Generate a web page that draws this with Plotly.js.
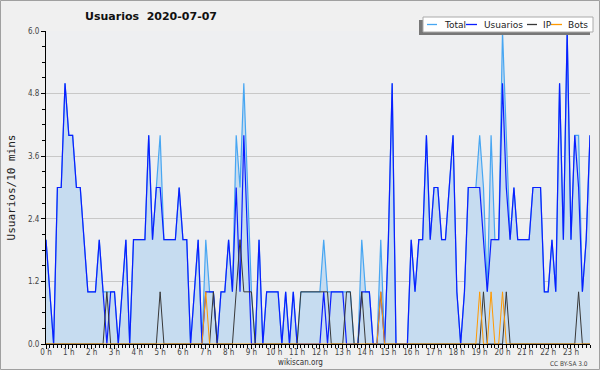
<!DOCTYPE html>
<html>
<head>
<meta charset="utf-8">
<script src="https://cdn.plot.ly/plotly-3.0.1.min.js"></script>
<style>
html,body{margin:0;padding:0;background:#f0f0f0;}
#chart{width:600px;height:370px;}
</style>
</head>
<body>
<div id="chart"></div>
<script>
// Users per 10-minute slot, 2020-07-07 (144 slots: 0h00 .. 23h50)
const usuarios = [
  2,1,0,3,3,5,4,4,3,3,
  2,1,1,1,2,1,0,1,1,0,
  1,2,0,2,2,2,2,4,2,3,
  3,2,2,2,2,3,2,2,0,1,
  2,0,1,1,1,0,1,1,2,1,
  3,1,4,2,0,0,2,0,1,1,
  1,1,0,1,0,1,0,0,0,0,
  0,0,0,1,0,1,1,1,1,0,
  0,0,0,1,1,1,0,0,1,0,
  2,5,0,0,0,0,2,1,2,2,
  4,2,3,3,2,2,3,4,1,0,
  1,3,3,3,3,2,1,2,2,2,
  5,3,2,3,2,2,2,2,3,3,
  3,1,1,2,1,5,2,6,2,4,
  3,1,2,4
];
const total = [
  2,1,0,3,3,5,4,4,3,3,
  2,1,1,1,2,1,1,1,1,0,
  1,2,0,2,2,2,2,4,2,3,
  4,2,2,2,2,3,2,2,0,1,
  2,0,2,1,1,0,1,1,2,1,
  4,3,5,3,1,0,2,0,1,1,
  1,1,0,1,0,1,0,1,1,1,
  1,1,1,2,1,1,1,1,1,1,
  1,0,0,2,1,1,0,0,2,0,
  2,5,0,0,0,0,2,1,2,2,
  4,2,3,3,2,2,3,4,1,0,
  1,3,3,3,4,3,1,4,2,2,
  6,4,2,3,2,2,2,2,3,3,
  3,1,1,2,1,5,2,6,2,4,
  4,1,2,4
];
const ip = [
  0,0,0,0,0,0,0,0,0,0,
  0,0,0,0,0,0,1,0,0,0,
  0,0,0,0,0,0,0,0,0,0,
  1,0,0,0,0,0,0,0,0,0,
  0,0,0,0,1,0,0,0,0,0,
  1,2,1,1,1,0,0,0,0,0,
  0,0,0,0,0,0,0,1,1,1,
  1,1,1,1,1,0,0,0,0,1,
  1,0,0,1,0,0,0,0,0,0,
  0,0,0,0,0,0,0,0,0,0,
  0,0,0,0,0,0,0,0,0,0,
  0,0,0,0,0,1,0,0,0,0,
  0,1,0,0,0,0,0,0,0,0,
  0,0,0,0,0,0,0,0,0,0,
  1,0,0,0
];
const bots = [
  0,0,0,0,0,0,0,0,0,0,
  0,0,0,0,0,0,0,0,0,0,
  0,0,0,0,0,0,0,0,0,0,
  0,0,0,0,0,0,0,0,0,0,
  0,0,1,0,0,0,0,0,0,0,
  0,0,0,0,0,0,0,0,0,0,
  0,0,0,0,0,0,0,0,0,0,
  0,0,0,0,0,0,0,0,0,0,
  0,0,0,0,0,0,0,0,1,0,
  0,0,0,0,0,0,0,0,0,0,
  0,0,0,0,0,0,0,0,0,0,
  0,0,0,0,1,0,0,1,0,0,
  1,0,0,0,0,0,0,0,0,0,
  0,0,0,0,0,0,0,0,0,0,
  0,0,0,0
];
const hourTicks = [0,1,2,3,4,5,6,7,8,9,10,11,12,13,14,15,16,17,18,19,20,21,22,23];
const hourLabels = ['0 h','1 h','2 h','3 h','4 h','5 h','6 h','7 h','8 h','9 h','10 h','11 h',
                    '12 h','13 h','14 h','15 h','16 h','17 h','18 h','19 h','20 h','21 h','22 h','23 h'];
const chartTitle = 'Usuarios\u00a0\u00a02020-07-07';
const yTitle = 'Usuarios/10 mins';

const slotsPerHour = 6;
const slotHours = usuarios.map((_, i) => i / slotsPerHour);

const colors = {Total:'#47a6f2', Usuarios:'#0a1eff', IP:'#383838', Bots:'#ff9900'};

const traces = [
  {x: slotHours, y: total, name: 'Total', type: 'scatter', mode: 'lines',
   line: {color: colors.Total, width: 1.2}, fill: 'tozeroy', fillcolor: '#c6dcf0'},
  {x: slotHours, y: usuarios, name: 'Usuarios', type: 'scatter', mode: 'lines',
   line: {color: colors.Usuarios, width: 1.2}},
  {x: slotHours, y: ip, name: 'IP', type: 'scatter', mode: 'lines',
   line: {color: colors.IP, width: 1}},
  {x: slotHours, y: bots, name: 'Bots', type: 'scatter', mode: 'lines',
   line: {color: colors.Bots, width: 1}}
];

// pixel -> paper helpers (plot area 46..590 x 31..344)
const PL = 46, PR = 590, PT = 31, PB = 344;
const px = v => (v - PL) / (PR - PL);
const py = v => (PB - v) / (PB - PT);

// custom compact legend
const legendRow = 24.5;
const legendItems = [
  {name: 'Total',    s0: 427, s1: 437, t: 442},
  {name: 'Usuarios', s0: 466, s1: 477, t: 482},
  {name: 'IP',       s0: 527, s1: 537, t: 541},
  {name: 'Bots',     s0: 551, s1: 562, t: 566}
];

const shapes = [
  {type:'rect', xref:'paper', yref:'paper', x0:px(419), x1:px(590), y0:py(35), y1:py(20),
   fillcolor:'#777', line:{width:0}, layer:'above'},
  {type:'rect', xref:'paper', yref:'paper', x0:px(423), x1:px(593), y0:py(32), y1:py(17),
   fillcolor:'#ffffff', line:{color:'#aaa', width:1}, layer:'above'},
  {type:'rect', xref:'paper', yref:'paper', x0:px(0.5), x1:px(599.5), y0:py(369.5), y1:py(0.5),
   fillcolor:'rgba(0,0,0,0)', line:{color:'#a0a0a0', width:1}, layer:'above'}
];
const annotations = [];
legendItems.forEach(it => {
  shapes.push({type:'line', xref:'paper', yref:'paper', x0:px(it.s0), x1:px(it.s1),
               y0:py(legendRow), y1:py(legendRow), line:{color:colors[it.name], width:1.3}, layer:'above'});
  annotations.push({xref:'paper', yref:'paper', x:px(it.t), y:py(legendRow), text:it.name,
                    showarrow:false, xanchor:'left', yanchor:'middle',
                    font:{family:'DejaVu Sans', size:9, color:'#222'}});
});
annotations.push({xref:'paper', yref:'paper', x:px(300), y:py(362), text:'wikiscan.org',
                  showarrow:false, xanchor:'center', yanchor:'middle',
                  font:{family:'DejaVu Sans Condensed, DejaVu Sans', size:8, color:'#333'}});
annotations.push({xref:'paper', yref:'paper', x:px(590), y:py(363.5), text:'CC BY-SA 3.0',
                  showarrow:false, xanchor:'right', yanchor:'middle',
                  font:{family:'DejaVu Sans Condensed, DejaVu Sans', size:6.5, color:'#444'}});

const tickFont = {family:'DejaVu Sans Condensed, DejaVu Sans', size:8, color:'#444'};

const layout = {
  width: 600, height: 370,
  paper_bgcolor: '#f0f0f0', plot_bgcolor: '#eeeff1',
  margin: {l: PL, r: 600 - PR, t: PT, b: 370 - PB, pad: 0},
  showlegend: false,
  title: {text: chartTitle, xref: 'container', yref: 'container', x: 151/600, xanchor: 'center',
          y: 1 - 16.5/370, yanchor: 'middle',
          font: {family: 'DejaVu Sans', size: 11, weight: 'bold', color: '#111'}},
  xaxis: {range: [0, 143/6], showgrid: false, zeroline: false, showline: true, linecolor: '#000', linewidth: 1,
          ticks: 'outside', ticklen: 4, tickcolor: '#000', tickwidth: 1, ticklabelstandoff: -4,
          tickmode: 'array', tickvals: hourTicks, ticktext: hourLabels, tickfont: tickFont,
          minor: {ticks: 'outside', ticklen: 3, tickcolor: '#000', tickmode: 'linear', tick0: 0, dtick: 1/6, showgrid: false},
          fixedrange: true},
  yaxis: {range: [0, 6], showgrid: true, gridcolor: '#c8c8c8', gridwidth: 1, zeroline: false,
          showline: true, linecolor: '#000', linewidth: 1,
          ticks: 'outside', ticklen: 4, tickcolor: '#000', tickmode: 'linear', tick0: 0, dtick: 1.2,
          tickformat: '.1f', tickfont: tickFont,
          minor: {ticks: 'outside', ticklen: 3, tickcolor: '#000', tickmode: 'linear', tick0: 0, dtick: 0.3, showgrid: false},
          title: {text: yTitle, standoff: 10, font: {family: 'DejaVu Sans Mono', size: 11, color: '#222'}},
          fixedrange: true},
  shapes: shapes,
  annotations: annotations
};

Plotly.newPlot('chart', traces, layout, {displayModeBar: false, staticPlot: true});
</script>
</body>
</html>
